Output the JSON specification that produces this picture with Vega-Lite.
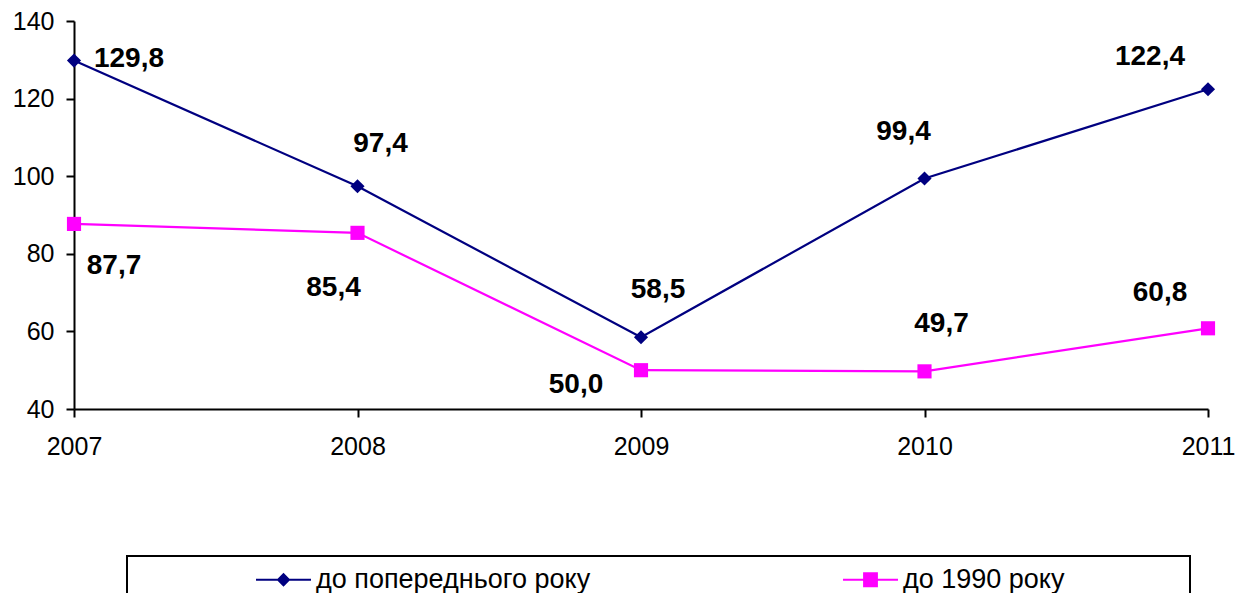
{
  "$schema": "https://vega.github.io/schema/vega-lite/v6.json",
  "autosize": "none",
  "width": 1134,
  "height": 388,
  "padding": {"left": 74, "top": 21, "right": 40, "bottom": 184},
  "background": "white",
  "config": {
    "view": {"stroke": null},
    "font": "Liberation Sans",
    "locale": {"number": {"decimal": ",", "thousands": " ", "grouping": [3], "currency": ["", ""]}},
    "legend": {"strokeWidth": 2},
    "axis": {
      "grid": false,
      "domainColor": "black",
      "domainWidth": 2,
      "tickColor": "black",
      "tickWidth": 2,
      "tickSize": 8,
      "labelColor": "black",
      "labelFont": "Liberation Sans",
      "labelFontSize": 25,
      "title": null
    }
  },
  "data": {
    "values": [
      {"year": 2007, "series": "до попереднього року", "value": 129.8},
      {"year": 2008, "series": "до попереднього року", "value": 97.4},
      {"year": 2009, "series": "до попереднього року", "value": 58.5},
      {"year": 2010, "series": "до попереднього року", "value": 99.4},
      {"year": 2011, "series": "до попереднього року", "value": 122.4},
      {"year": 2007, "series": "до 1990 року", "value": 87.7},
      {"year": 2008, "series": "до 1990 року", "value": 85.4},
      {"year": 2009, "series": "до 1990 року", "value": 50.0},
      {"year": 2010, "series": "до 1990 року", "value": 49.7},
      {"year": 2011, "series": "до 1990 року", "value": 60.8}
    ]
  },
  "encoding": {
    "x": {
      "field": "year",
      "type": "quantitative",
      "scale": {"domain": [2007, 2011], "nice": false, "zero": false},
      "axis": {"values": [2007, 2008, 2009, 2010, 2011], "format": "d", "labelPadding": 17, "labelFlush": false}
    },
    "y": {
      "field": "value",
      "type": "quantitative",
      "scale": {"domain": [40, 140], "nice": false, "zero": false},
      "axis": {"values": [40, 60, 80, 100, 120, 140], "labelPadding": 12}
    }
  },
  "layer": [
    {
      "mark": {"type": "line", "strokeWidth": 2.2},
      "encoding": {
        "color": {
          "field": "series",
          "type": "nominal",
          "scale": {"domain": ["до попереднього року", "до 1990 року"], "range": ["#000080", "#FF00FF"]}
        }
      }
    },
    {
      "transform": [{"filter": {"field": "series", "equal": "до попереднього року"}}],
      "mark": {"type": "point", "filled": true, "size": 200, "opacity": 1, "shape": "diamond"},
      "encoding": {"color": {"field": "series", "type": "nominal"}}
    },
    {
      "transform": [{"filter": {"field": "series", "equal": "до 1990 року"}}],
      "mark": {"type": "point", "filled": true, "size": 200, "opacity": 1, "shape": "square"},
      "encoding": {"color": {"field": "series", "type": "nominal"}}
    },
    {
      "transform": [{"filter": "false"}],
      "mark": {"type": "point", "filled": true, "opacity": 1},
      "encoding": {
        "color": {
          "field": "series",
          "type": "nominal",
          "legend": {
            "title": null,
            "orient": "none",
            "legendX": 53,
            "legendY": 535,
            "direction": "horizontal",
            "columns": 2,
            "columnPadding": 133,
            "padding": 10,
            "strokeColor": "black",
            "symbolSize": 676,
            "symbolStrokeWidth": 0,
            "symbolOpacity": 1,
            "symbolOffset": 133,
            "labelOffset": 19,
            "labelFont": "Liberation Sans",
            "labelFontSize": 27,
            "labelColor": "black",
            "labelLimit": 0
          }
        },
        "shape": {
          "field": "series",
          "type": "nominal",
          "scale": {
            "domain": ["до попереднього року", "до 1990 року"],
            "range": ["M-2.115,-0.085H2.115V0.085H-2.115ZM-0.53,0L0,-0.53L0.53,0L0,0.53Z", "M-2.115,-0.085H2.115V0.085H-2.115ZM-0.57,-0.57H0.57V0.57H-0.57ZM23.8,0"]
          },
          "legend": {"title": null}
        }
      }
    },
    {
      "transform": [{"filter": {"and": [{"field": "series", "equal": "до попереднього року"}, {"field": "year", "equal": 2007}]}}],
      "mark": {"type": "text", "fontWeight": "bold", "fontSize": 28, "color": "black", "align": "center", "baseline": "middle", "dx": 55, "dy": -2},
      "encoding": {"text": {"field": "value", "type": "quantitative", "format": ".1f"}}
    },
    {
      "transform": [{"filter": {"and": [{"field": "series", "equal": "до попереднього року"}, {"field": "year", "equal": 2008}]}}],
      "mark": {"type": "text", "fontWeight": "bold", "fontSize": 28, "color": "black", "align": "center", "baseline": "middle", "dx": 23, "dy": -42},
      "encoding": {"text": {"field": "value", "type": "quantitative", "format": ".1f"}}
    },
    {
      "transform": [{"filter": {"and": [{"field": "series", "equal": "до попереднього року"}, {"field": "year", "equal": 2009}]}}],
      "mark": {"type": "text", "fontWeight": "bold", "fontSize": 28, "color": "black", "align": "center", "baseline": "middle", "dx": 17, "dy": -47},
      "encoding": {"text": {"field": "value", "type": "quantitative", "format": ".1f"}}
    },
    {
      "transform": [{"filter": {"and": [{"field": "series", "equal": "до попереднього року"}, {"field": "year", "equal": 2010}]}}],
      "mark": {"type": "text", "fontWeight": "bold", "fontSize": 28, "color": "black", "align": "center", "baseline": "middle", "dx": -21, "dy": -47},
      "encoding": {"text": {"field": "value", "type": "quantitative", "format": ".1f"}}
    },
    {
      "transform": [{"filter": {"and": [{"field": "series", "equal": "до попереднього року"}, {"field": "year", "equal": 2011}]}}],
      "mark": {"type": "text", "fontWeight": "bold", "fontSize": 28, "color": "black", "align": "center", "baseline": "middle", "dx": -58, "dy": -32},
      "encoding": {"text": {"field": "value", "type": "quantitative", "format": ".1f"}}
    },
    {
      "transform": [{"filter": {"and": [{"field": "series", "equal": "до 1990 року"}, {"field": "year", "equal": 2007}]}}],
      "mark": {"type": "text", "fontWeight": "bold", "fontSize": 28, "color": "black", "align": "center", "baseline": "middle", "dx": 40, "dy": 42},
      "encoding": {"text": {"field": "value", "type": "quantitative", "format": ".1f"}}
    },
    {
      "transform": [{"filter": {"and": [{"field": "series", "equal": "до 1990 року"}, {"field": "year", "equal": 2008}]}}],
      "mark": {"type": "text", "fontWeight": "bold", "fontSize": 28, "color": "black", "align": "center", "baseline": "middle", "dx": -24, "dy": 55},
      "encoding": {"text": {"field": "value", "type": "quantitative", "format": ".1f"}}
    },
    {
      "transform": [{"filter": {"and": [{"field": "series", "equal": "до 1990 року"}, {"field": "year", "equal": 2009}]}}],
      "mark": {"type": "text", "fontWeight": "bold", "fontSize": 28, "color": "black", "align": "center", "baseline": "middle", "dx": -65, "dy": 15},
      "encoding": {"text": {"field": "value", "type": "quantitative", "format": ".1f"}}
    },
    {
      "transform": [{"filter": {"and": [{"field": "series", "equal": "до 1990 року"}, {"field": "year", "equal": 2010}]}}],
      "mark": {"type": "text", "fontWeight": "bold", "fontSize": 28, "color": "black", "align": "center", "baseline": "middle", "dx": 17, "dy": -47},
      "encoding": {"text": {"field": "value", "type": "quantitative", "format": ".1f"}}
    },
    {
      "transform": [{"filter": {"and": [{"field": "series", "equal": "до 1990 року"}, {"field": "year", "equal": 2011}]}}],
      "mark": {"type": "text", "fontWeight": "bold", "fontSize": 28, "color": "black", "align": "center", "baseline": "middle", "dx": -48, "dy": -35},
      "encoding": {"text": {"field": "value", "type": "quantitative", "format": ".1f"}}
    }
  ]
}
